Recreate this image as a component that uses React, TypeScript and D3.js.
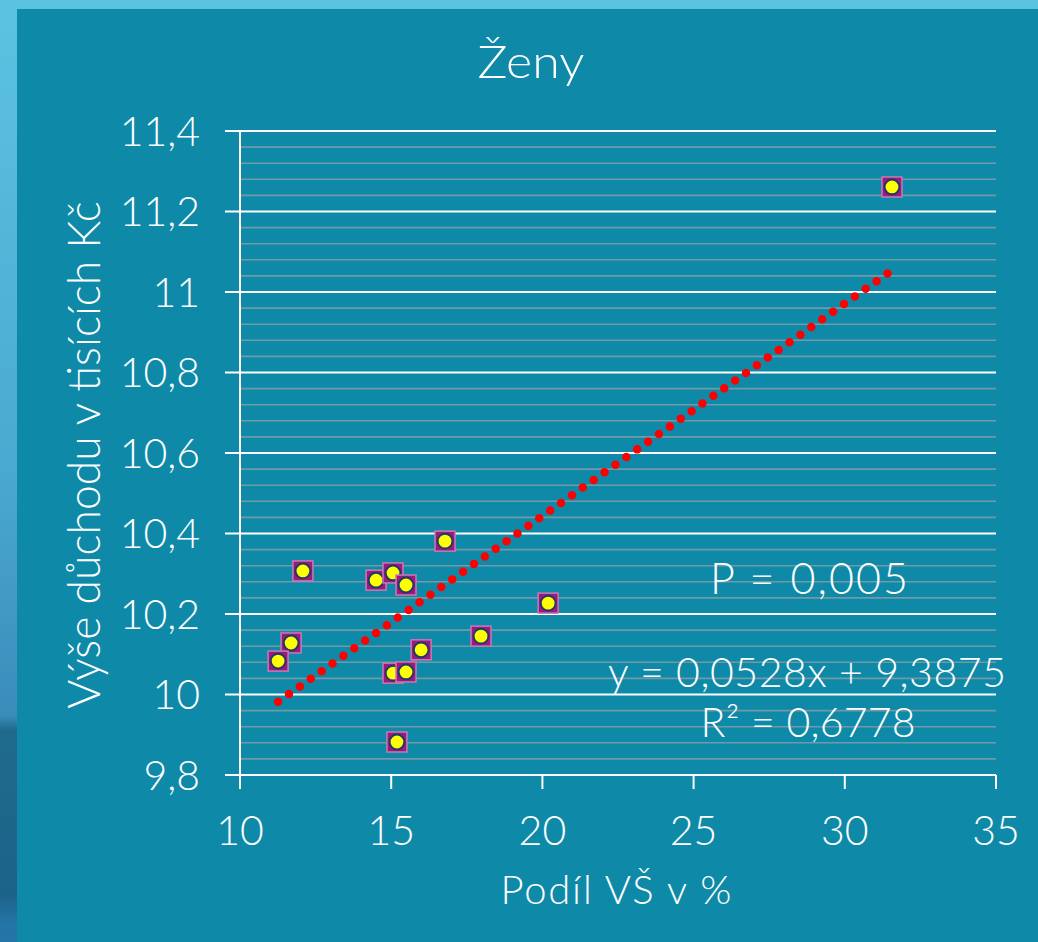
import React from "react";
import * as d3 from "d3";

const W = 1038;
const H = 942;

const podilVS = [31.56, 16.78, 12.08, 14.5, 15.06, 15.49, 20.19, 11.69, 11.26, 15.99, 17.97, 15.06, 15.49, 15.19];
const vyseDuchodu = [11.261, 10.381, 10.307, 10.284, 10.302, 10.272, 10.227, 10.128, 10.083, 10.111, 10.145, 10.053, 10.056, 9.882];

const xTicks = [10, 15, 20, 25, 30, 35];
const yTicks = [9.8, 10, 10.2, 10.4, 10.6, 10.8, 11, 11.2, 11.4];
const slope = 0.0528;
const intercept = 9.3875;

const title = "Ženy";
const xTitle = "Podíl VŠ v %";
const yTitle = "Výše důchodu v tisících Kč";
const pLabel = "P = 0,005";
const eqLabel = "y = 0,0528x + 9,3875";
const r2Label = "R² = 0,6778";

const FONT = "Lato, 'Open Sans', sans-serif";

const fmt = (v: number) => String(Math.round(v * 10) / 10).replace(".", ",");

export default function App() {
  const left = 240, right = 996, top = 131, bottom = 775;
  const x = d3.scaleLinear().domain([10, 35]).range([left, right]);
  const y = d3.scaleLinear().domain([9.8, 11.4]).range([bottom, top]);

  const minor: number[] = [];
  for (let i = 0; i <= 40; i++) {
    const v = 9.8 + i * 0.04;
    if (i % 5 !== 0) minor.push(v);
  }

  const xMin = d3.min(podilVS) as number;
  const xMax = d3.max(podilVS) as number;
  const trend = d3.line<number>().x((d) => x(d)).y((d) => y(slope * d + intercept));

  const pts = podilVS.map((v, i) => [v, vyseDuchodu[i]]);

  return (
    <svg width={W} height={H} style={{ position: "fixed", left: 0, top: 0 }} fontFamily={FONT}>
      <defs>
        <linearGradient id="leftStrip" x1="0" y1="0" x2="0" y2="1">
          <stop offset="0" stopColor="#5cc3e2" />
          <stop offset="0.5" stopColor="#4aa9d0" />
          <stop offset="0.76" stopColor="#3a8cba" />
          <stop offset="0.775" stopColor="#1f6b8d" />
          <stop offset="0.95" stopColor="#1c6389" />
          <stop offset="0.98" stopColor="#2474a6" />
          <stop offset="1" stopColor="#2575a8" />
        </linearGradient>
      </defs>
      <rect x={0} y={0} width={W} height={H} fill="url(#leftStrip)" />
      <rect x={0} y={0} width={W} height={9} fill="#5bc3e1" />
      <rect x={17} y={9} width={W - 17} height={H - 9} fill="#0e8aa8" />

      {/* minor gridlines */}
      {minor.map((v, i) => (
        <line key={"m" + i} x1={left} x2={right} y1={y(v)} y2={y(v)} stroke="#6f9aa6" strokeWidth={1.6} />
      ))}
      {/* major gridlines */}
      {yTicks.map((v, i) => (
        <line key={"g" + i} x1={left} x2={right} y1={y(v)} y2={y(v)} stroke="#ffffff" strokeWidth={2} />
      ))}
      {/* y axis */}
      <line x1={left} x2={left} y1={top} y2={bottom} stroke="#fff" strokeWidth={2} />
      {yTicks.map((v, i) => (
        <line key={"yt" + i} x1={left - 15} x2={left} y1={y(v)} y2={y(v)} stroke="#fff" strokeWidth={2} />
      ))}
      {yTicks.map((v, i) => (
        <text key={"yl" + i} x={200} y={y(v)} dy="0.36em" textAnchor="end" fill="#fff" fontSize={41} fontWeight={300}>
          {fmt(v)}
        </text>
      ))}
      {/* x axis */}
      <line x1={left - 15} x2={right} y1={bottom} y2={bottom} stroke="#fff" strokeWidth={2} />
      {xTicks.map((v, i) => (
        <line key={"xt" + i} x1={x(v)} x2={x(v)} y1={bottom} y2={bottom + 14} stroke="#fff" strokeWidth={2} />
      ))}
      {xTicks.map((v, i) => (
        <text key={"xl" + i} x={x(v)} y={845} textAnchor="middle" fill="#fff" fontSize={41} fontWeight={300}>
          {v}
        </text>
      ))}

      {/* trendline */}
      <path
        d={trend([xMin, xMax]) || ""}
        fill="none"
        stroke="#ff0000"
        strokeWidth={8.5}
        strokeLinecap="round"
        strokeDasharray="0 13.3"
      />

      {/* markers */}
      {pts.map(([a, b], i) => (
        <g key={"p" + i} transform={`translate(${x(a)},${y(b)})`}>
          <rect x={-10} y={-10} width={20} height={20} fill="#a0177e" stroke="#c77ab4" strokeWidth={1.5} />
          <circle r={7.4} fill="#ffff00" stroke="#1d3a6a" strokeWidth={2} />
        </g>
      ))}

      {/* titles */}
      <text x={531} y={78} textAnchor="middle" fill="#fff" fontSize={46} fontWeight={300} textLength={107} lengthAdjust="spacingAndGlyphs">{title}</text>
      <text x={616} y={904} textAnchor="middle" fill="#fff" fontSize={40} fontWeight={300} textLength={231} lengthAdjust="spacing">{xTitle}</text>
      <text transform={`translate(100,455) rotate(-90)`} textAnchor="middle" fill="#fff" fontSize={44.5} fontWeight={300}>{yTitle}</text>

      <text x={809} y={594} textAnchor="middle" fill="#fff" fontSize={43} fontWeight={300} textLength={198} lengthAdjust="spacing">{pLabel}</text>
      <text x={807} y={687} textAnchor="middle" fill="#fff" fontSize={41} fontWeight={300} textLength={398} lengthAdjust="spacing">{eqLabel}</text>
      <text x={808} y={737} textAnchor="middle" fill="#fff" fontSize={41} fontWeight={300} textLength={215} lengthAdjust="spacing">{r2Label}</text>
    </svg>
  );
}
